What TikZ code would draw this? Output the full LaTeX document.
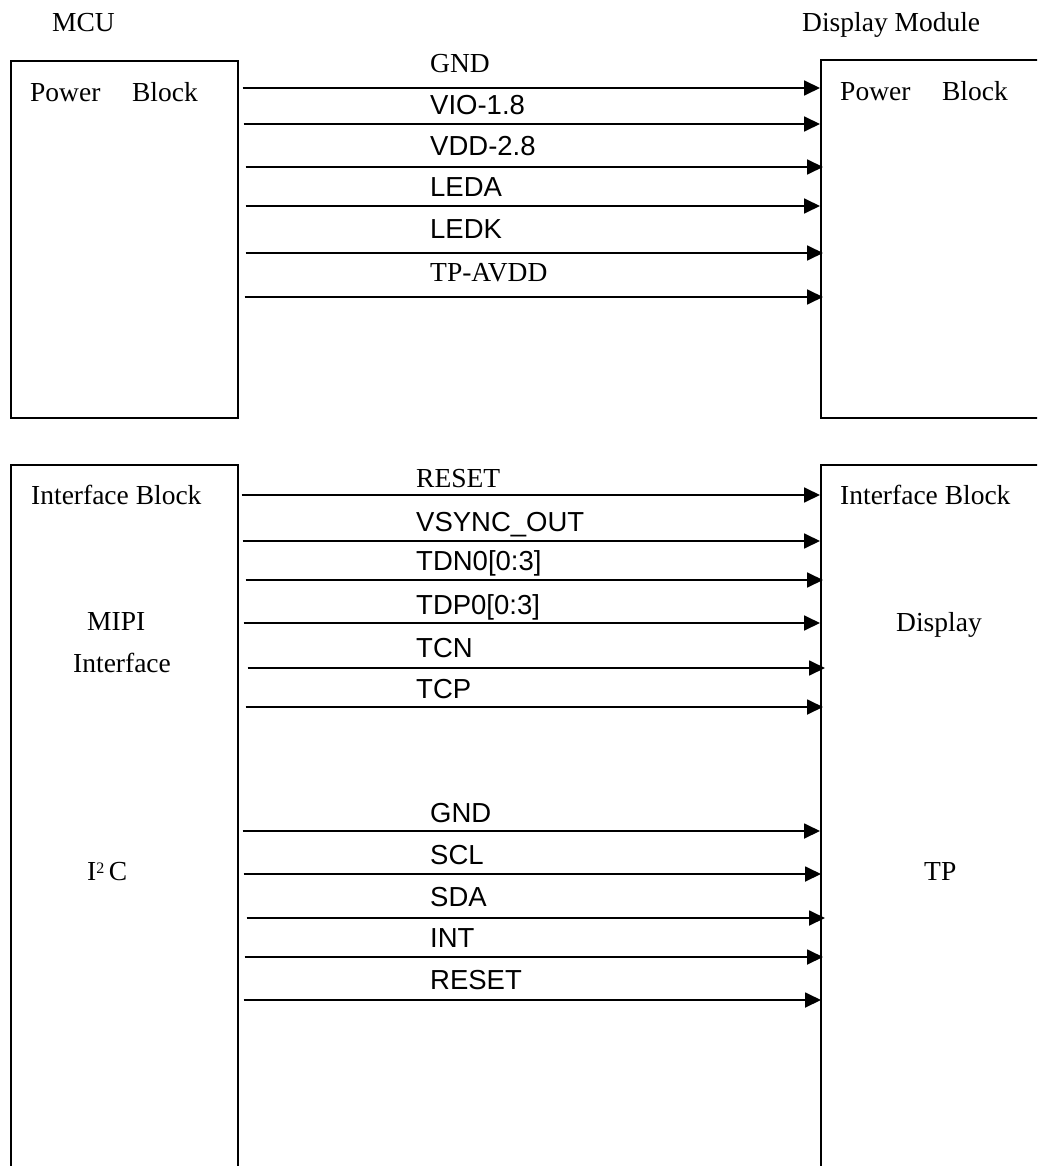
\documentclass[tikz,border=0pt]{standalone}
\usepackage{fontspec}
\setmainfont{Liberation Serif}
\newfontfamily\arialfont{Liberation Sans}
\usetikzlibrary{arrows.meta, positioning, calc}
\tikzset{
    block_box/.style={rectangle, draw, line width=1.7pt, anchor=north west, inner sep=0pt},
    txt_serif/.style={anchor=base west, inner sep=0pt, font=\fontsize{27.5}{33}\selectfont},
    txt_sans/.style={anchor=base west, inner sep=0pt, font=\fontsize{27.5}{33}\selectfont\arialfont},
    arrow/.style={-{Triangle[length=16pt, width=15pt]}, line width=1.8pt}
}

\begin{document}
\begin{tikzpicture}[x=1pt, y=-1pt]
    \useasboundingbox (0,0) rectangle (1037,1166);
    \clip (0,0) rectangle (1037,1166);

    % titles
    \node (mcu) [txt_serif] at (52,32) {MCU};
    \node (module) [txt_serif] at (802,32) {Display Module};

    % blocks
    \node (pwrL) [block_box, minimum width=227pt, minimum height=357pt] at (10,60) {};
    \node (pwrR) [block_box, minimum width=300pt, minimum height=358pt] at (820,59) {};
    \node (ifL) [block_box, minimum width=227pt, minimum height=800pt] at (10,464) {};
    \node (ifR) [block_box, minimum width=300pt, minimum height=800pt] at (820,464) {};

    \node (pwrLtxt) [txt_serif] at (30,102) {Power\hspace{1.15em}Block};
    \node (pwrRtxt) [txt_serif] at (840,101) {Power\hspace{1.15em}Block};
    \node (ifLtxt) [txt_serif] at (31,504) {Interface Block};
    \node (ifRtxt) [txt_serif] at (840,504) {Interface Block};
    \node (mipi) [txt_serif] at (87,630) {MIPI};
    \node (mipi2) [txt_serif] at (73,672) {Interface};
    \node (disp) [txt_serif] at (896,631) {Display};
    \node (iic) [txt_serif] at (87,880) {I\raisebox{0.5ex}{\fontsize{16}{16}\selectfont 2}\,C};
    \node (tp) [txt_serif] at (924,880) {TP};

    % power signals
    \node (sGnd) [txt_serif] at (430,73) {GND};
    \node (sVio) [txt_sans] at (430,115) {VIO-1.8};
    \node (sVdd) [txt_sans] at (430,156) {VDD-2.8};
    \node (sLeda) [txt_sans] at (430,197) {LEDA};
    \node (sLedk) [txt_sans] at (430,239) {LEDK};
    \node (sAvdd) [txt_serif] at (430,281) {TP-AVDD};

    \draw [arrow] ([xshift=4pt]pwrL.east |- 0,88) -- (pwrR.west |- 0,88);
    \draw [arrow] ([xshift=5pt]pwrL.east |- 0,124) -- (pwrR.west |- 0,124);
    \draw [arrow] ([xshift=7pt]pwrL.east |- 0,167) -- ([xshift=3pt]pwrR.west |- 0,167);
    \draw [arrow] ([xshift=7pt]pwrL.east |- 0,206) -- (pwrR.west |- 0,206);
    \draw [arrow] ([xshift=7pt]pwrL.east |- 0,253) -- ([xshift=3pt]pwrR.west |- 0,253);
    \draw [arrow] ([xshift=6pt]pwrL.east |- 0,297) -- ([xshift=3pt]pwrR.west |- 0,297);

    % display signals
    \node (sRst) [txt_serif] at (416,487) {RESET};
    \node (sVsync) [txt_sans] at (416,531) {VSYNC\_OUT};
    \node (sTdn) [txt_sans] at (416,570) {TDN0[0:3]};
    \node (sTdp) [txt_sans] at (416,614) {TDP0[0:3]};
    \node (sTcn) [txt_sans] at (416,657) {TCN};
    \node (sTcp) [txt_sans] at (416,698) {TCP};

    \draw [arrow] ([xshift=3pt]ifL.east |- 0,495) -- (ifR.west |- 0,495);
    \draw [arrow] ([xshift=4pt]ifL.east |- 0,541) -- (ifR.west |- 0,541);
    \draw [arrow] ([xshift=7pt]ifL.east |- 0,580) -- ([xshift=3pt]ifR.west |- 0,580);
    \draw [arrow] ([xshift=5pt]ifL.east |- 0,623) -- (ifR.west |- 0,623);
    \draw [arrow] ([xshift=9pt]ifL.east |- 0,668) -- ([xshift=5pt]ifR.west |- 0,668);
    \draw [arrow] ([xshift=7pt]ifL.east |- 0,707) -- ([xshift=3pt]ifR.west |- 0,707);

    % touch signals
    \node (tGnd) [txt_sans] at (430,822) {GND};
    \node (tScl) [txt_sans] at (430,864) {SCL};
    \node (tSda) [txt_sans] at (430,906) {SDA};
    \node (tInt) [txt_sans] at (430,947) {INT};
    \node (tRst) [txt_sans] at (430,989) {RESET};

    \draw [arrow] ([xshift=4pt]ifL.east |- 0,831) -- (ifR.west |- 0,831);
    \draw [arrow] ([xshift=5pt]ifL.east |- 0,874) -- ([xshift=1pt]ifR.west |- 0,874);
    \draw [arrow] ([xshift=8pt]ifL.east |- 0,918) -- ([xshift=5pt]ifR.west |- 0,918);
    \draw [arrow] ([xshift=6pt]ifL.east |- 0,957) -- ([xshift=3pt]ifR.west |- 0,957);
    \draw [arrow] ([xshift=5pt]ifL.east |- 0,1000) -- ([xshift=1pt]ifR.west |- 0,1000);
\end{tikzpicture}
\end{document}
